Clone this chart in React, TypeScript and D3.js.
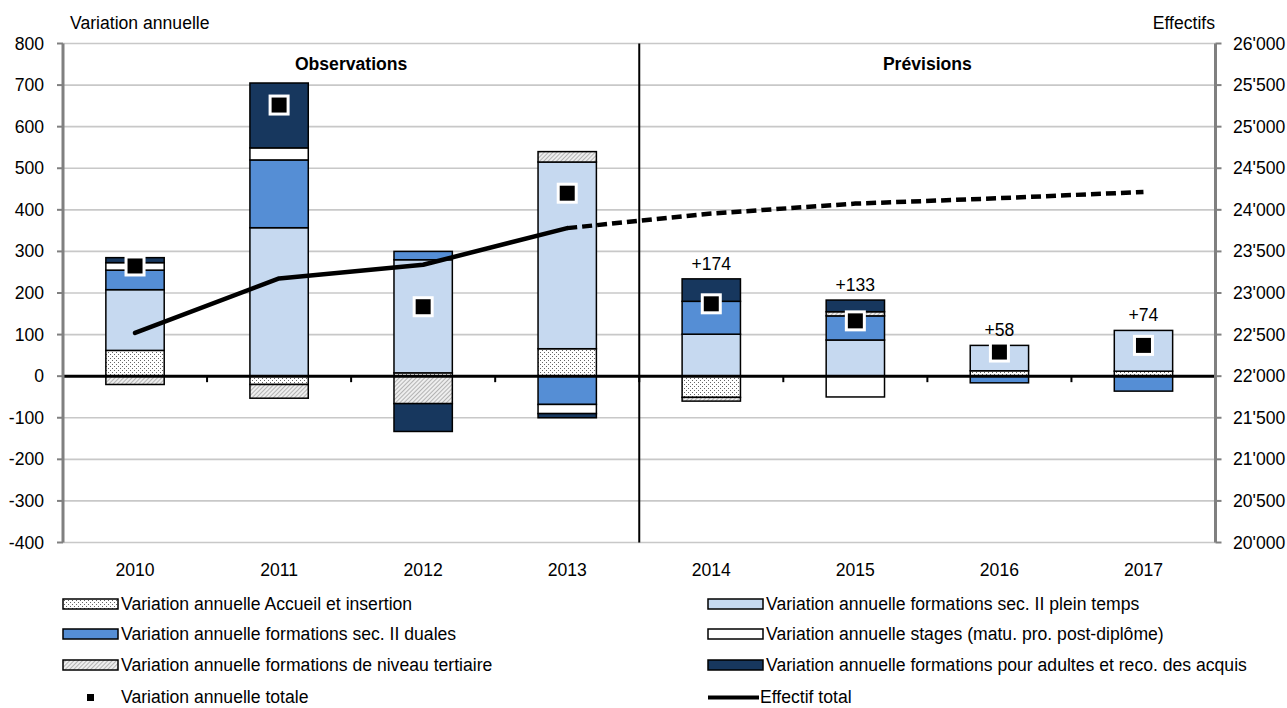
import React from 'react';
import * as d3 from 'd3';

const categories = ['2010', '2011', '2012', '2013', '2014', '2015', '2016', '2017'];
const accueil = [62, -20, 8, 66, -51, 0, 13, 12];
const pleinTemps = [146, 357, 272, 449, 101, 87, 61, 98];
const duales = [47, 163, 20, -68, 79, 58, -16, -36];
const stages = [18, 29, 0, -22, 0, -50, 0, 0];
const tertiaire = [-20, -33, -66, 25, -9, 10, 0, 0];
const adultes = [12, 156, -67, -10, 54, 28, 0, 0];
const totals = [265, 652, 167, 440, 174, 133, 58, 74];
const effectif = [22520, 23175, 23340, 23780, 23955, 24075, 24140, 24215];
const leftTicks = [800, 700, 600, 500, 400, 300, 200, 100, 0, -100, -200, -300, -400];
const rightTicks = [26000, 25500, 25000, 24500, 24000, 23500, 23000, 22500, 22000, 21500, 21000, 20500, 20000];
const labelledYears = ['2014', '2015', '2016', '2017'];
const seriesKeys = ['accueil', 'pleinTemps', 'duales', 'stages', 'tertiaire', 'adultes'];
const seriesNames = [
  'Variation annuelle Accueil et insertion',
  'Variation annuelle formations sec. II plein temps',
  'Variation annuelle formations sec. II duales',
  'Variation annuelle stages (matu. pro. post-diplôme)',
  'Variation annuelle formations de niveau tertiaire',
  'Variation annuelle formations pour adultes et reco. des acquis',
];
const seriesFills = ['url(#dots)', '#c6d9f0', '#558ed5', '#ffffff', 'url(#hatch)', '#17375e'];

const W = 1287;
const H = 708;
const M = { left: 63, right: 1215.5, top: 43.5, bottom: 542.5 };
const FONT = '"Liberation Sans", Arial, sans-serif';
const FS = 17.6;

export default function App() {
  const x = d3.scaleBand<string>().domain(categories).range([M.left, M.right]).paddingInner(0).paddingOuter(0);
  const y = d3.scaleLinear().domain([-400, 800]).range([M.bottom, M.top]);
  const yR = d3.scaleLinear().domain([20000, 26000]).range([M.bottom, M.top]);
  const barW = x.bandwidth() * 0.405;

  const rows = categories.map((c, i) => ({
    cat: c,
    accueil: accueil[i],
    pleinTemps: pleinTemps[i],
    duales: duales[i],
    stages: stages[i],
    tertiaire: tertiaire[i],
    adultes: adultes[i],
  }));
  const stacked = d3.stack<any>().keys(seriesKeys).offset(d3.stackOffsetDiverging)(rows);

  const cx = (c: string) => (x(c) as number) + x.bandwidth() / 2;
  const linePts = categories.map((c, i) => [cx(c), yR(effectif[i])] as [number, number]);
  const line = d3.line();
  const solidPts = linePts.slice(0, 4);
  const dashPts = linePts.slice(3);
  const fmtR = (v: number) => d3.format(',')(v).replace(/,/g, "'");
  const sepX = x('2014') as number;

  const legendLeft = [0, 2, 4];
  const legendRight = [1, 3, 5];
  const rowY = [604, 634, 665];

  return (
    <svg width={W} height={H} style={{ position: 'absolute', left: 0, top: 0, background: '#fff' }} fontFamily={FONT}>
      <defs>
        <pattern id="dots" width="4" height="4" patternUnits="userSpaceOnUse">
          <rect width="4" height="4" fill="#fff" />
          <rect x="0" y="0" width="1" height="1" fill="#666" />
          <rect x="2" y="2" width="1" height="1" fill="#666" />
        </pattern>
        <pattern id="hatch" width="3" height="3" patternUnits="userSpaceOnUse" patternTransform="rotate(45)">
          <rect width="3" height="3" fill="#eeeeee" />
          <line x1="0" y1="0" x2="0" y2="3" stroke="#8c8c8c" strokeWidth="1.2" />
        </pattern>
      </defs>

      {/* gridlines */}
      {leftTicks.map((t) => (
        <line key={'g' + t} x1={M.left} x2={M.right} y1={y(t)} y2={y(t)} stroke="#c8c8c8" strokeWidth={1.6} />
      ))}

      {/* bars */}
      {stacked.map((s, si) => (
        <g key={s.key}>
          {s.map((d, i) => {
            const v = d[1] - d[0];
            if (v === 0) return null;
            const c = categories[i];
            return (
              <rect
                key={c}
                x={cx(c) - barW / 2}
                width={barW}
                y={y(Math.max(d[0], d[1]))}
                height={Math.abs(y(d[0]) - y(d[1]))}
                fill={seriesFills[si]}
                stroke="#000"
                strokeWidth={1.5}
              />
            );
          })}
        </g>
      ))}

      {/* zero line */}
      <line x1={M.left} x2={M.right} y1={y(0)} y2={y(0)} stroke="#000" strokeWidth={3} />
      {categories.map((c) => (
        <line key={'zt' + c} x1={x(c) as number} x2={x(c) as number} y1={y(0)} y2={y(0) + 6} stroke="#000" strokeWidth={2} />
      ))}
      <line x1={M.right} x2={M.right} y1={y(0)} y2={y(0) + 6} stroke="#000" strokeWidth={2} />

      {/* separator */}
      <line x1={sepX} x2={sepX} y1={M.top} y2={M.bottom} stroke="#000" strokeWidth={2} />

      {/* effectif line */}
      <path d={line(solidPts) || ''} fill="none" stroke="#000" strokeWidth={4.5} strokeLinejoin="round" strokeLinecap="round" />
      <path d={line(dashPts) || ''} fill="none" stroke="#000" strokeWidth={4.5} strokeDasharray="10 5" />

      {/* totals markers */}
      {categories.map((c, i) => (
        <rect key={'m' + c} x={cx(c) - 9} y={y(totals[i]) - 9} width={18} height={18} fill="#000" stroke="#fff" strokeWidth={3} />
      ))}

      {/* labels above forecast bars */}
      {categories.map((c, i) => {
        if (!labelledYears.includes(c)) return null;
        const top = d3.max(stacked, (s) => s[i][1]) as number;
        return (
          <text key={'l' + c} x={cx(c)} y={y(top) - 9} textAnchor="middle" fontSize={FS} fill="#000">
            {'+' + totals[i]}
          </text>
        );
      })}

      {/* left axis */}
      <line x1={M.left} x2={M.left} y1={M.top} y2={M.bottom} stroke="#808080" strokeWidth={3} />
      {leftTicks.map((t) => (
        <g key={'lt' + t}>
          <line x1={M.left - 6} x2={M.left} y1={y(t)} y2={y(t)} stroke="#808080" strokeWidth={2} />
          <text x={44} y={y(t) + 6} textAnchor="end" fontSize={FS} fill="#000">{t}</text>
        </g>
      ))}
      {/* right axis */}
      <line x1={M.right} x2={M.right} y1={M.top} y2={M.bottom} stroke="#808080" strokeWidth={3} />
      {rightTicks.map((t) => (
        <g key={'rt' + t}>
          <line x1={M.right} x2={M.right + 6} y1={yR(t)} y2={yR(t)} stroke="#808080" strokeWidth={2} />
          <text x={1233} y={yR(t) + 6} textAnchor="start" fontSize={FS} fill="#000">{fmtR(t)}</text>
        </g>
      ))}

      {/* category labels */}
      {categories.map((c) => (
        <text key={'c' + c} x={cx(c)} y={576} textAnchor="middle" fontSize={FS} fill="#000">{c}</text>
      ))}

      {/* titles */}
      <text x={70} y={29} fontSize={FS} fill="#000">Variation annuelle</text>
      <text x={1215} y={29} fontSize={FS} textAnchor="end" fill="#000">Effectifs</text>
      <text x={(M.left + sepX) / 2} y={70} fontSize={FS} fontWeight="bold" textAnchor="middle" fill="#000">Observations</text>
      <text x={(sepX + M.right) / 2} y={70} fontSize={FS} fontWeight="bold" textAnchor="middle" fill="#000">Prévisions</text>

      {/* legend */}
      {legendLeft.map((si, r) => (
        <g key={'ll' + si}>
          <rect x={63} y={rowY[r] - 5} width={55} height={10} fill={seriesFills[si]} stroke="#000" strokeWidth={1.5} />
          <text x={121} y={rowY[r] + 6} fontSize={FS} fill="#000">{seriesNames[si]}</text>
        </g>
      ))}
      {legendRight.map((si, r) => (
        <g key={'lr' + si}>
          <rect x={708} y={rowY[r] - 5} width={55} height={10} fill={seriesFills[si]} stroke="#000" strokeWidth={1.5} />
          <text x={766} y={rowY[r] + 6} fontSize={FS} fill="#000">{seriesNames[si]}</text>
        </g>
      ))}
      <rect x={87} y={694} width={7} height={7} fill="#000" />
      <text x={121} y={703} fontSize={FS} fill="#000">Variation annuelle totale</text>
      <line x1={708} x2={759} y1={697.5} y2={697.5} stroke="#000" strokeWidth={4} />
      <text x={760} y={703} fontSize={FS} fill="#000">Effectif total</text>
    </svg>
  );
}
